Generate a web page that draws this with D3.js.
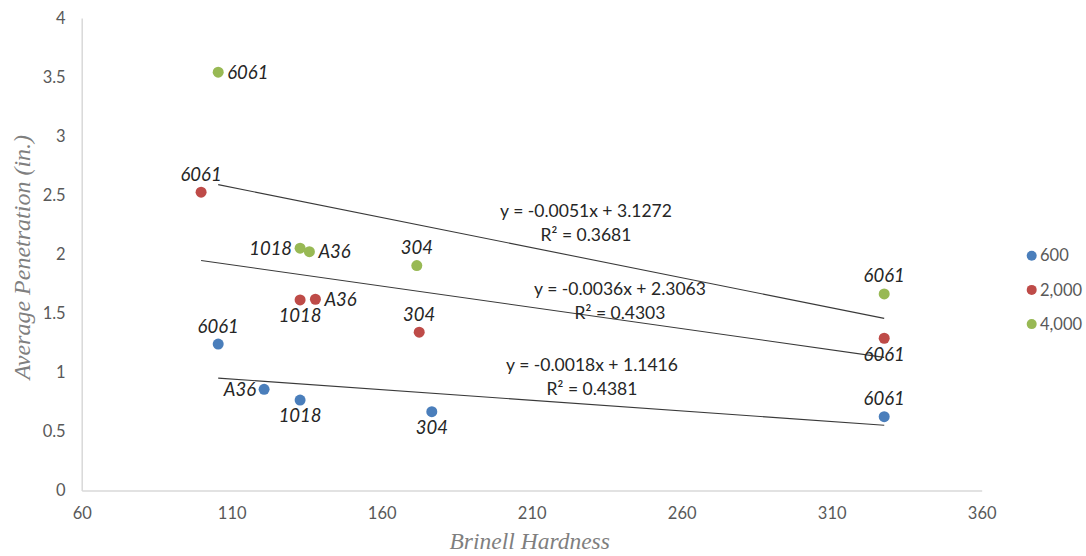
<!DOCTYPE html>
<html>
<head>
<meta charset="utf-8">
<script src="https://cdn.jsdelivr.net/npm/d3@7/dist/d3.min.js"></script>
<style>
  html, body { margin: 0; padding: 0; background: #ffffff; }
  svg { display: block; }
</style>
</head>
<body>
<svg id="chart" width="1086" height="556"></svg>
<script>
// ---------------- DATA ----------------
const seriesNames = ["600", "2,000", "4,000"];

const hardness600    = [105.5, 120.8, 132.8, 176.7, 327.5];
const penetration600 = [1.240, 0.857, 0.766, 0.667, 0.625];
const labels600      = ["6061", "A36", "1018", "304", "6061"];
const labelPos600    = ["above", "left", "below", "below", "above"];

const hardness2000    = [99.8, 132.8, 137.9, 172.5, 327.5];
const penetration2000 = [2.525, 1.613, 1.619, 1.340, 1.289];
const labels2000      = ["6061", "1018", "A36", "304", "6061"];
const labelPos2000    = ["above", "below", "right", "above", "below"];

const hardness4000    = [105.5, 132.8, 135.9, 171.7, 327.5];
const penetration4000 = [3.541, 2.051, 2.022, 1.904, 1.664];
const labels4000      = ["6061", "1018", "A36", "304", "6061"];
const labelPos4000    = ["right", "left", "right", "above", "above"];

const trendSlopes     = [-0.0018, -0.0036, -0.0051];
const trendIntercepts = [1.1416, 2.3063, 3.1272];
const trendR2         = [0.4381, 0.4303, 0.3681];

const xTicks = [60, 110, 160, 210, 260, 310, 360];
const yTicks = [0, 0.5, 1, 1.5, 2, 2.5, 3, 3.5, 4];

const xTitle = "Brinell Hardness";
const yTitle = "Average Penetration (in.)";

// ---------------- LAYOUT / STYLE ----------------
const colors = ["#4a7ebb", "#be4b48", "#98b954"];
const plot = { left: 81.7, right: 981.7, top: 18, bottom: 490.5 };
const eqCenters = [[592, 365], [620, 289], [586, 211]];
const sansFont = "Lato, 'Open Sans', sans-serif";
const serifFont = "'Liberation Serif', 'DejaVu Serif', serif";

const svg = d3.select("#chart");

const x = d3.scaleLinear().domain([60, 360]).range([plot.left, plot.right]);
const y = d3.scaleLinear().domain([0, 4]).range([plot.bottom, plot.top]);

// axes
const xAxis = d3.axisBottom(x).tickValues(xTicks).tickSize(0).tickPadding(17)
  .tickFormat(d => String(d));
const yAxis = d3.axisLeft(y).tickValues(yTicks).tickSize(0).tickPadding(16)
  .tickFormat(d => String(d));

const gx = svg.append("g").attr("transform", `translate(0,${plot.bottom})`).call(xAxis);
const gy = svg.append("g").attr("transform", `translate(${plot.left},0)`).call(yAxis);
[gx, gy].forEach(g => {
  g.select(".domain").attr("stroke", "#d9d9d9").attr("stroke-width", 1.5);
  g.selectAll("text").attr("fill", "#595959").style("font-family", sansFont).style("font-size", "16.5px");
});

// axis titles
svg.append("text")
  .attr("x", (plot.left + plot.right) / 2 - 2).attr("y", 549)
  .attr("text-anchor", "middle")
  .style("font-family", serifFont).style("font-style", "italic").style("font-size", "23.5px")
  .attr("fill", "#7f7f7f").text(xTitle);

svg.append("text")
  .attr("transform", `translate(30,${(plot.top + plot.bottom) / 2 + 3}) rotate(-90)`)
  .attr("text-anchor", "middle")
  .style("font-family", serifFont).style("font-style", "italic").style("font-size", "24px")
  .attr("fill", "#7f7f7f").text(yTitle);

// series assembly
const series = [
  { xs: hardness600,  ys: penetration600,  labels: labels600,  pos: labelPos600 },
  { xs: hardness2000, ys: penetration2000, labels: labels2000, pos: labelPos2000 },
  { xs: hardness4000, ys: penetration4000, labels: labels4000, pos: labelPos4000 }
];

// trendlines
series.forEach((s, i) => {
  const x0 = d3.min(s.xs), x1 = d3.max(s.xs);
  const f = v => trendSlopes[i] * v + trendIntercepts[i];
  svg.append("line")
    .attr("x1", x(x0)).attr("y1", y(f(x0)))
    .attr("x2", x(x1)).attr("y2", y(f(x1)))
    .attr("stroke", "#3a3a3a").attr("stroke-width", 1.1);
});

// points + labels
series.forEach((s, i) => {
  const pts = s.xs.map((v, j) => ({ x: v, y: s.ys[j], label: s.labels[j], pos: s.pos[j] }));
  const g = svg.append("g");
  g.selectAll("circle").data(pts).join("circle")
    .attr("cx", d => x(d.x)).attr("cy", d => y(d.y)).attr("r", 5.5)
    .attr("fill", colors[i]);
  g.selectAll("text").data(pts).join("text")
    .attr("x", d => d.pos === "right" ? x(d.x) + 9 : d.pos === "left" ? x(d.x) - 8 : x(d.x))
    .attr("y", d => d.pos === "above" ? y(d.y) - 18 : d.pos === "below" ? y(d.y) + 16 : y(d.y))
    .attr("dy", "0.35em")
    .attr("text-anchor", d => d.pos === "right" ? "start" : d.pos === "left" ? "end" : "middle")
    .style("font-family", sansFont).style("font-style", "italic").style("font-size", "18.5px")
    .attr("fill", "#262626")
    .text(d => d.label);
});

// equation labels
series.forEach((s, i) => {
  const [cx, cy] = eqCenters[i];
  const slope = trendSlopes[i].toFixed(4);
  svg.append("text").attr("text-anchor", "middle")
    .attr("x", cx).attr("y", cy).attr("dy", "0.35em")
    .style("font-family", sansFont).style("font-size", "17.5px").attr("fill", "#262626")
    .text(`y = ${slope}x + ${trendIntercepts[i].toFixed(4)}`);
  svg.append("text").attr("text-anchor", "middle")
    .attr("x", cx).attr("y", cy + 24).attr("dy", "0.35em")
    .style("font-family", sansFont).style("font-size", "17.5px").attr("fill", "#262626")
    .text(`R² = ${trendR2[i].toFixed(4)}`);
});

// legend
const legend = svg.append("g");
seriesNames.forEach((name, i) => {
  const ly = 255.7 + i * 34.2;
  legend.append("circle").attr("cx", 1031.7).attr("cy", ly).attr("r", 5).attr("fill", colors[i]);
  legend.append("text").attr("x", 1040).attr("y", ly).attr("dy", "0.35em")
    .style("font-family", sansFont).style("font-size", "16.5px").attr("fill", "#595959")
    .text(name);
});
</script>
</body>
</html>
